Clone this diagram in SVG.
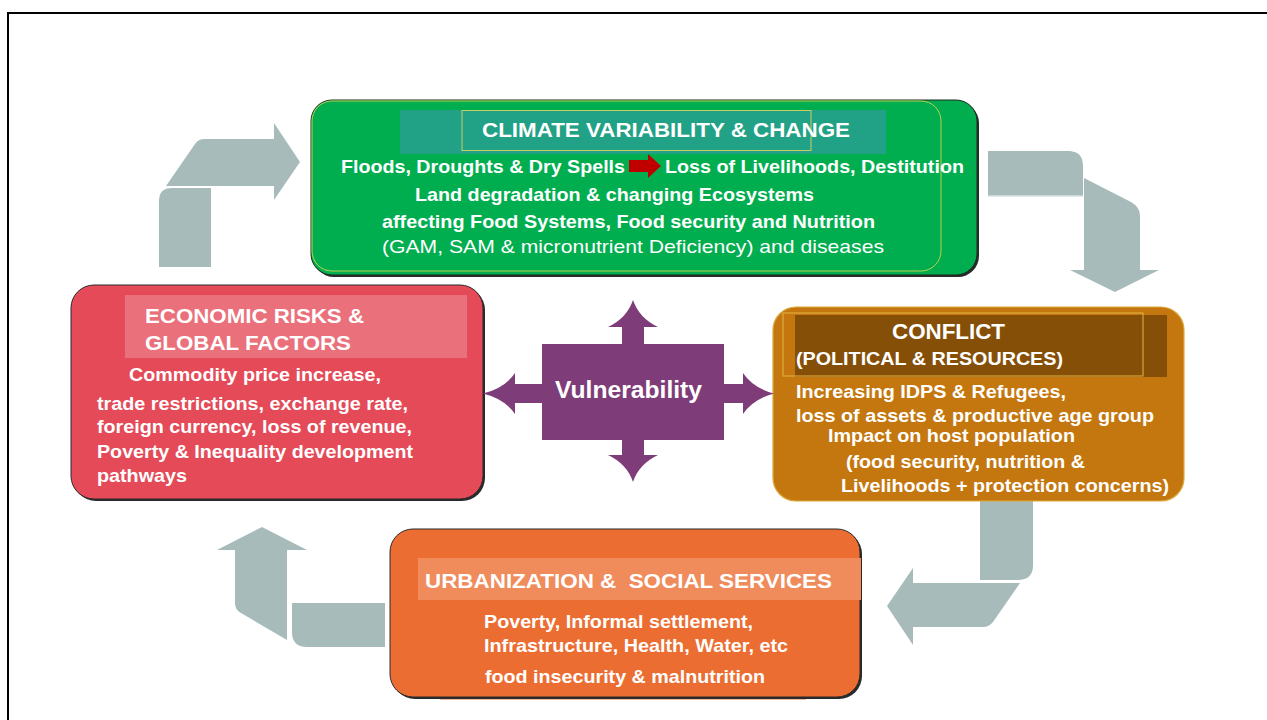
<svg xmlns="http://www.w3.org/2000/svg" width="1267" height="720" viewBox="0 0 1267 720">
  <style>
    .t { font-family: "Liberation Sans", Arial, Helvetica, sans-serif; font-weight: bold; fill: #ffffff; }
    .n { font-weight: normal; }
    .flow { fill: #A7BBBB; }
    .shadow { fill: #2a2a2a; }
  </style>

  <rect width="1267" height="720" fill="#ffffff"/>
  <!-- page frame -->
  <path d="M8,720 V13 H1267" fill="none" stroke="#000000" stroke-width="2"/>

  <!-- cycle connectors -->
  <g id="connectors">
    <!-- economic -> climate -->
    <path class="flow" d="M159,267 V201 Q159,188 172,188 H211 V267 Z"/>
    <path class="flow" d="M166,186 L195,144 Q198,139 205,139 H274 V123 L300,162 L274,200 V186 Z"/>
    <!-- climate -> conflict -->
    <path class="flow" d="M988,151 H1068 Q1083,151 1083,166 V196 H988 Z"/>
    <line x1="988" y1="196" x2="1083" y2="196" stroke="#D6E1E1" stroke-width="1.5"/>
    <path class="flow" d="M1084,178 L1131,202 Q1140,207 1140,216 V270 H1159 L1115,292 L1070,270 H1084 Z"/>
    <!-- conflict -> urbanization -->
    <path class="flow" d="M980,500 H1033 V565 Q1033,580 1018,580 H980 Z"/>
    <path class="flow" d="M1020,583 L993,622 Q989,627 983,627 H913 V645 L887,606 L913,568 V583 Z"/>
    <!-- urbanization -> economic -->
    <path class="flow" d="M385,603 V647 H307 Q292,647 292,632 V603 Z"/>
    <path class="flow" d="M287,640 L241,613 Q235,610 235,603 V550 H217 L262,527 L307,550 H287 Z"/>
  </g>

  <!-- CLIMATE -->
  <g id="climate">
    <rect class="shadow" x="313" y="102" width="666" height="175" rx="21"/>
    <rect x="311" y="100" width="666" height="175" rx="21" fill="#00AE4F" stroke="#1E2A20" stroke-width="1"/>
    <rect x="312" y="101" width="629" height="170" rx="20" fill="none" stroke="#B9D24E" stroke-width="1"/>
    <rect x="400" y="110" width="486" height="44" fill="#21A186"/>
    <rect x="462" y="110.5" width="349" height="40" fill="none" stroke="#C9CF62" stroke-width="1"/>
    <text class="t" x="482" y="137" font-size="21" textLength="368" lengthAdjust="spacingAndGlyphs">CLIMATE VARIABILITY &amp; CHANGE</text>
    <text class="t" x="341" y="173" font-size="19" textLength="284" lengthAdjust="spacingAndGlyphs">Floods, Droughts &amp; Dry Spells</text>
    <path d="M629,160 H648 V154 L661,166 L648,178 V172 H629 Z" fill="#C00000"/>
    <text class="t" x="665" y="173" font-size="19" textLength="299" lengthAdjust="spacingAndGlyphs">Loss of Livelihoods, Destitution</text>
    <text class="t" x="415" y="201" font-size="19" textLength="399" lengthAdjust="spacingAndGlyphs">Land degradation &amp; changing Ecosystems</text>
    <text class="t" x="382" y="228" font-size="19" textLength="493" lengthAdjust="spacingAndGlyphs">affecting Food Systems, Food security and Nutrition</text>
    <text class="t n" x="382" y="253" font-size="19" textLength="502" lengthAdjust="spacingAndGlyphs">(GAM, SAM &amp; micronutrient Deficiency) and diseases</text>
  </g>

  <!-- ECONOMIC -->
  <g id="economic">
    <rect class="shadow" x="73" y="287" width="412" height="214" rx="23"/>
    <rect x="71" y="285" width="412" height="214" rx="23" fill="#E44A58" stroke="#2a2a2a" stroke-width="1"/>
    <rect x="125" y="295" width="342" height="63" fill="#EA707B"/>
    <text class="t" x="145" y="323" font-size="21" textLength="219" lengthAdjust="spacingAndGlyphs">ECONOMIC RISKS &amp;</text>
    <text class="t" x="145" y="350" font-size="21" textLength="206" lengthAdjust="spacingAndGlyphs">GLOBAL FACTORS</text>
    <text class="t" x="129" y="381" font-size="19" textLength="252" lengthAdjust="spacingAndGlyphs">Commodity price increase,</text>
    <text class="t" x="97" y="410" font-size="19" textLength="311" lengthAdjust="spacingAndGlyphs">trade restrictions, exchange rate,</text>
    <text class="t" x="97" y="433" font-size="19" textLength="315" lengthAdjust="spacingAndGlyphs">foreign currency, loss of revenue,</text>
    <text class="t" x="97" y="458" font-size="19" textLength="316" lengthAdjust="spacingAndGlyphs">Poverty &amp; Inequality development</text>
    <text class="t" x="97" y="482" font-size="19" textLength="90" lengthAdjust="spacingAndGlyphs">pathways</text>
  </g>

  <!-- CONFLICT -->
  <g id="conflict">
    <rect x="773" y="307" width="411" height="194" rx="23" fill="#C4770E" stroke="#DDA83C" stroke-width="1.2"/>
    <rect x="795" y="315" width="372" height="62" fill="#864F07"/>
    <rect x="783" y="313" width="360" height="63" fill="none" stroke="#E3B545" stroke-width="1"/>
    <text class="t" x="892" y="339" font-size="22" textLength="113" lengthAdjust="spacingAndGlyphs">CONFLICT</text>
    <text class="t" x="796" y="365" font-size="19" textLength="267" lengthAdjust="spacingAndGlyphs">(POLITICAL &amp; RESOURCES)</text>
    <text class="t" x="796" y="398" font-size="19" textLength="270" lengthAdjust="spacingAndGlyphs">Increasing IDPS &amp; Refugees,</text>
    <text class="t" x="796" y="422" font-size="19" textLength="358" lengthAdjust="spacingAndGlyphs">loss of assets &amp; productive age group</text>
    <text class="t" x="828" y="442" font-size="19" textLength="247" lengthAdjust="spacingAndGlyphs">Impact on host population</text>
    <text class="t" x="846" y="468" font-size="19" textLength="239" lengthAdjust="spacingAndGlyphs">(food security, nutrition &amp;</text>
    <text class="t" x="841" y="492" font-size="19" textLength="328" lengthAdjust="spacingAndGlyphs">Livelihoods + protection concerns)</text>
  </g>

  <!-- URBANIZATION -->
  <g id="urbanization">
    <path d="M440,699 H806" stroke="#F2A27C" stroke-width="1.5" fill="none"/>
    <rect class="shadow" x="392" y="531" width="470" height="168" rx="23"/>
    <rect x="390" y="529" width="470" height="168" rx="23" fill="#EC6D31" stroke="#2a2a2a" stroke-width="1"/>
    <rect x="418" y="558" width="443" height="42" fill="#F08B5C"/>
    <text class="t" x="425" y="588" font-size="21" textLength="407" lengthAdjust="spacingAndGlyphs" xml:space="preserve">URBANIZATION &amp;  SOCIAL SERVICES</text>
    <text class="t" x="484" y="628" font-size="19" textLength="269" lengthAdjust="spacingAndGlyphs">Poverty, Informal settlement,</text>
    <text class="t" x="484" y="652" font-size="19" textLength="304" lengthAdjust="spacingAndGlyphs">Infrastructure, Health, Water, etc</text>
    <text class="t" x="485" y="683" font-size="19" textLength="280" lengthAdjust="spacingAndGlyphs">food insecurity &amp; malnutrition</text>
  </g>

  <!-- VULNERABILITY (four-way arrow) -->
  <g id="vulnerability">
    <path fill="#7E3C78" d="M542,344 H622 V327 H608 Q627,318 633,300 Q639,318 658,327 H644 V344 H724 V384 H743 V373 Q753,388 774,393.5 Q753,399 743,414 V403 H724 V440 H644 V455 H658 Q639,464 633,482 Q627,464 608,455 H622 V440 H542 V403 H515 V414 Q505,399 483,393.5 Q505,388 515,373 V384 H542 Z"/>
    <text class="t" x="555" y="398" font-size="24" textLength="147" lengthAdjust="spacingAndGlyphs">Vulnerability</text>
  </g>
</svg>
